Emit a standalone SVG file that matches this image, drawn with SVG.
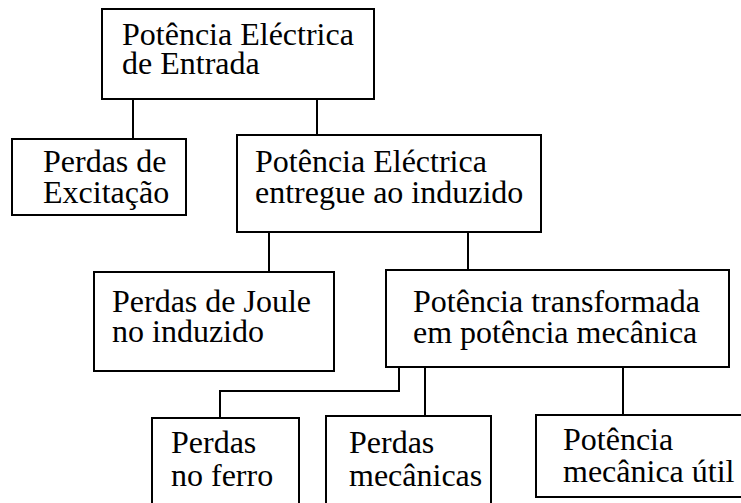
<svg xmlns="http://www.w3.org/2000/svg" width="741" height="503" viewBox="0 0 741 503">
<style>
.box{fill:#fff;stroke:#000;stroke-width:2}
.c{fill:none;stroke:#000;stroke-width:2}
text{font-family:"Liberation Serif","Times New Roman",serif;font-size:32px;fill:#000}
</style>
<rect width="741" height="503" fill="#fff"/>
<g id="connectors">
<path class="c" d="M133 99V139"/>
<path class="c" d="M317 97V135"/>
<path class="c" d="M269 232V272"/>
<path class="c" d="M468 232V270"/>
<path class="c" d="M399 367V391H220V418"/>
<path class="c" d="M425 367V416"/>
<path class="c" d="M623 367V415"/>
</g>
<g id="n1"><rect class="box" x="102" y="9" width="272" height="90"/><text x="122" y="45">Potência Eléctrica<tspan x="122" y="74">de Entrada</tspan></text></g>
<g id="n2"><rect class="box" x="12" y="139" width="174" height="76"/><text x="43" y="172">Perdas de<tspan x="43" y="203">Excitação</tspan></text></g>
<g id="n3"><rect class="box" x="237" y="135" width="304" height="97"/><text x="255" y="172">Potência Eléctrica<tspan x="255" y="203">entregue ao induzido</tspan></text></g>
<g id="n4"><rect class="box" x="94" y="272" width="240" height="99"/><text x="112" y="312">Perdas de Joule<tspan x="112" y="342">no induzido</tspan></text></g>
<g id="n5"><rect class="box" x="386" y="270" width="343" height="97"/><text x="413" y="312">Potência transformada<tspan x="413" y="343">em potência mecânica</tspan></text></g>
<g id="n6"><rect class="box" x="152" y="418" width="147" height="100"/><text x="171" y="453">Perdas<tspan x="171" y="486">no ferro</tspan></text></g>
<g id="n7"><rect class="box" x="326" y="416" width="165" height="102"/><text x="349" y="453">Perdas<tspan x="349" y="486">mecânicas</tspan></text></g>
<g id="n8"><rect class="box" x="536" y="415" width="215" height="82"/><text x="563" y="450">Potência<tspan x="563" y="482">mecânica útil</tspan></text></g>
</svg>
